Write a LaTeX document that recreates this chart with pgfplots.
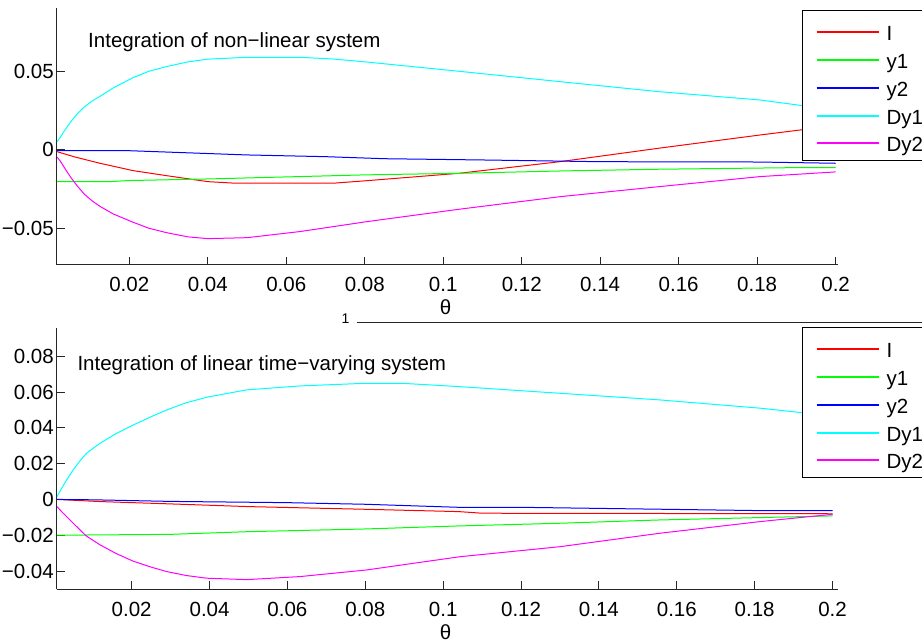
\documentclass[border=0pt]{standalone}
\usepackage{pgfplots}
\pgfplotsset{compat=1.18}
\usepackage{fontspec}
\setmainfont{Liberation Sans}

\definecolor{axisgray}{gray}{0.15}
\definecolor{mred}{rgb}{1,0,0}
\definecolor{mgreen}{rgb}{0,1,0}
\definecolor{mblue}{rgb}{0,0,1}
\definecolor{mcyan}{rgb}{0,1,1}
\definecolor{mmagenta}{rgb}{1,0,1}

\pgfplotsset{
  mlab/.style={
    scale only axis,
    width=781pt,
    axis lines*=left,
    axis line style={-, draw=axisgray, line width=1pt},
    scaled x ticks=false,
    scaled y ticks=false,
    tick align=inside,
    major tick length=8pt,
    tick style={draw=axisgray, line width=0.9pt},
    xtick={0.02,0.04,0.06,0.08,0.1,0.12,0.14,0.16,0.18,0.2},
    xticklabels={0.02,0.04,0.06,0.08,0.1,0.12,0.14,0.16,0.18,0.2},
    xticklabel style={anchor=base, yshift=-27pt, inner sep=0pt},
    yticklabel style={anchor=east, xshift=-3pt, inner sep=0pt},
    xlabel={θ},
    xlabel style={at={(axis description cs:0.4974,0)}, anchor=center, yshift=-42.5pt, inner sep=0pt},
    every axis plot/.append style={line width=1pt},
    legend cell align=left,
    legend image code/.code={\draw[##1, line width=2pt] (0pt,8.5pt) -- (62pt,8.5pt);},
    legend style={
      draw=black, line width=1pt, fill=white,
      inner xsep=13pt, inner ysep=7pt,
      row sep=2.8pt,
      nodes={inner sep=0pt, text height=23.5pt, text depth=1.5pt, anchor=base west},
      /tikz/every odd column/.append style={column sep=7pt},
    },
  }
}

\begin{document}
\fontsize{20.5}{24}\selectfont
\begin{tikzpicture}
\path[use as bounding box] (0pt,0pt) rectangle (922pt,641pt);

% --- non-linear system ---
\begin{axis}[mlab,
  at={(57pt,376pt)}, anchor=south west,
  height=256.7pt,
  xmin=0.00158, xmax=0.2006,
  ymin=-0.0734, ymax=0.0901,
  ytick={-0.05,0,0.05},
  yticklabels={−0.05,0,0.05},
  legend style={at={(0.9539,0.9945)}, anchor=north west},
]
\addplot[mred] coordinates {
 (0.00158,-0.0012) (0.006,-0.0045) (0.0125,-0.0086) (0.021,-0.0133)
 (0.0295,-0.0165) (0.04,-0.0203) (0.047,-0.0213) (0.072,-0.0213)
 (0.0805,-0.0197) (0.104,-0.0150) (0.1297,-0.0076) (0.155,0.0010)
 (0.1807,0.0094) (0.191,0.0126) (0.2,0.0155)};
\addlegendentry{I}
\addplot[mgreen] coordinates {
 (0.00158,-0.0203) (0.015,-0.0203) (0.02,-0.0196) (0.04,-0.0186)
 (0.06,-0.0173) (0.08,-0.0160) (0.104,-0.0150) (0.13,-0.0135)
 (0.155,-0.0124) (0.189,-0.0114) (0.2,-0.0113)};
\addlegendentry{y1}
\addplot[mblue] coordinates {
 (0.00158,-0.0006) (0.02,-0.0006) (0.03,-0.0015) (0.05,-0.0033)
 (0.07,-0.0044) (0.085,-0.0057) (0.11,-0.0065) (0.14,-0.0076)
 (0.18,-0.0078) (0.2,-0.0086)};
\addlegendentry{y2}
\addplot[mcyan] coordinates {
 (0.00158,0.0050) (0.0023,0.0075) (0.003,0.0102) (0.004,0.0140)
 (0.0052,0.0182) (0.0066,0.0225) (0.0085,0.0272) (0.0105,0.0310)
 (0.0125,0.0340) (0.016,0.0395) (0.021,0.0460) (0.025,0.0500)
 (0.0295,0.0530) (0.035,0.0560) (0.04,0.0577) (0.05,0.0589)
 (0.0635,0.0589) (0.072,0.0578) (0.0805,0.0559) (0.092,0.0530)
 (0.104,0.0500) (0.1297,0.0434) (0.155,0.0370) (0.1807,0.0317)
 (0.191,0.0283) (0.2,0.0260)};
\addlegendentry{Dy1}
\addplot[mmagenta] coordinates {
 (0.00158,-0.0046) (0.0023,-0.0068) (0.003,-0.0095) (0.004,-0.0135)
 (0.0052,-0.0180) (0.0066,-0.0226) (0.0085,-0.0282) (0.0105,-0.0325)
 (0.0125,-0.0360) (0.016,-0.0410) (0.021,-0.0462) (0.025,-0.0500)
 (0.0295,-0.0528) (0.035,-0.0555) (0.04,-0.0566) (0.05,-0.0560)
 (0.0635,-0.0521) (0.0805,-0.0458) (0.104,-0.0379) (0.1297,-0.0299)
 (0.155,-0.0235) (0.1807,-0.0171) (0.2,-0.0141)};
\addlegendentry{Dy2}
\node[anchor=base west, inner sep=0pt] at (rel axis cs:0.0397,0.8465)
  {Integration of non−linear system};
\end{axis}

% --- linear time-varying system ---
\begin{axis}[mlab,
  at={(57pt,51.7pt)}, anchor=south west,
  height=261pt,
  xmin=0.00082, xmax=0.2014,
  ymin=-0.0502, ymax=0.0956,
  ytick={-0.04,-0.02,0,0.02,0.04,0.06,0.08},
  yticklabels={−0.04,−0.02,0,0.02,0.04,0.06,0.08},
  legend style={at={(0.9539,1.006)}, anchor=north west},
]
\addplot[mred] coordinates {
 (0.00082,0.0000) (0.012,-0.0012) (0.03,-0.0025) (0.05,-0.0040)
 (0.08,-0.0055) (0.104,-0.0068) (0.11,-0.0077) (0.2,-0.0080)};
\addlegendentry{I}
\addplot[mgreen] coordinates {
 (0.00082,-0.0200) (0.03,-0.0195) (0.05,-0.0180) (0.08,-0.0165)
 (0.104,-0.0148) (0.13,-0.0133) (0.155,-0.0115) (0.18,-0.0102)
 (0.2,-0.0092)};
\addlegendentry{y1}
\addplot[mblue] coordinates {
 (0.00082,0.0000) (0.01,-0.0002) (0.03,-0.0011) (0.06,-0.0018)
 (0.08,-0.0027) (0.104,-0.0044) (0.12,-0.0044) (0.15,-0.0053)
 (0.18,-0.0062) (0.2,-0.0062)};
\addlegendentry{y2}
\addplot[mcyan] coordinates {
 (0.00082,0.0016) (0.002,0.0062) (0.0033,0.0109) (0.005,0.0166)
 (0.0068,0.0218) (0.0084,0.0258) (0.0119,0.0314) (0.016,0.0368)
 (0.0204,0.0416) (0.025,0.0462) (0.029,0.0500) (0.034,0.0540)
 (0.0393,0.0571) (0.0495,0.0612) (0.0632,0.0634) (0.0803,0.0649)
 (0.09,0.0648) (0.1043,0.0630) (0.13,0.0593) (0.1556,0.0556)
 (0.1813,0.0510) (0.192,0.0485) (0.2,0.0470)};
\addlegendentry{Dy1}
\addplot[mmagenta] coordinates {
 (0.00082,-0.0040) (0.002,-0.0068) (0.0033,-0.0096) (0.005,-0.0133)
 (0.0068,-0.0172) (0.0084,-0.0205) (0.0119,-0.0254) (0.016,-0.0302)
 (0.0204,-0.0345) (0.025,-0.0378) (0.029,-0.0403) (0.034,-0.0425)
 (0.0393,-0.0440) (0.0495,-0.0448) (0.0632,-0.0431) (0.0803,-0.0394)
 (0.1043,-0.0320) (0.13,-0.0264) (0.1556,-0.0189) (0.1813,-0.0124)
 (0.2,-0.0083)};
\addlegendentry{Dy2}
\node[anchor=base west, inner sep=0pt] at (rel axis cs:0.026,0.840)
  {Integration of linear time−varying system};
\end{axis}

% stray axis fragment between the two panels
\node[inner sep=0pt, anchor=base, font=\fontsize{14}{15}\selectfont] at (345.5pt,317pt) {1};
\draw[axisgray, line width=1.3pt] (356.7pt,318.3pt) -- (922pt,318.3pt);
\end{tikzpicture}
\end{document}
